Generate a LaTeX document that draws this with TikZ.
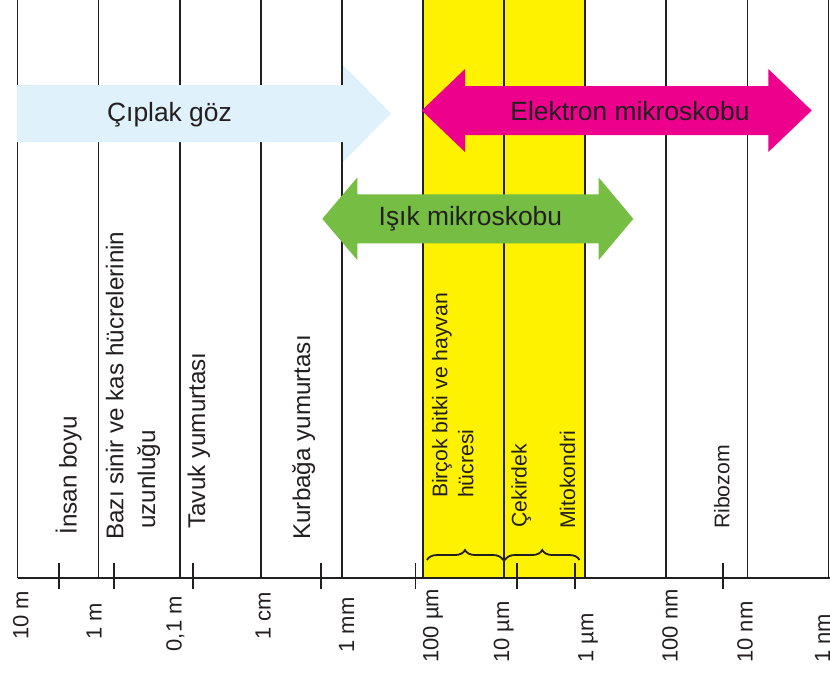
\documentclass[tikz,border=0pt]{standalone}
\usepackage{fontspec}
\setmainfont{Liberation Sans}
\usetikzlibrary{decorations.pathreplacing}
\definecolor{ink}{HTML}{231F20}
\definecolor{eyeblue}{HTML}{DFF1FA}
\definecolor{lmgreen}{HTML}{76BD43}
\definecolor{emmag}{HTML}{EC008C}
\definecolor{bandyellow}{HTML}{FFF200}
\begin{document}
\begin{tikzpicture}[x=0.5pt,y=-0.5pt,
  gridline/.style={draw=ink, line width=0.9pt},
  tickmark/.style={draw=ink, line width=0.9pt},
  bracemark/.style={draw=ink, line width=0.9pt, decorate, decoration={brace, amplitude=5pt}},
  lbl/.style={text=ink, font=\fontsize{12.1}{14}\selectfont, rotate=90, anchor=base west, inner sep=0pt},
  cellbl/.style={text=ink, font=\fontsize{10.6}{13}\selectfont, rotate=90, anchor=base west, inner sep=0pt},
  axlbl/.style={text=ink, font=\fontsize{11}{13}\selectfont, rotate=90, anchor=base west, inner sep=0pt},
  arrtext/.style={text=ink, font=\fontsize{13.2}{16}\selectfont, anchor=base west, inner sep=0pt}]
\useasboundingbox (0,0) rectangle (830,677);
\clip (0,0) rectangle (830,677);
\fill[white] (0,0) rectangle (830,677);
% yellow band
\fill[bandyellow] (423,0) rectangle (585,578);
% vertical grid lines
\foreach \x in {17.5,98.5,180,261,342,423,504,585,666,747.5,828.5}
  \draw[gridline] (\x,0) -- (\x,578);
% axis
\draw[gridline] (17.5,578) -- (832,578);
% tick marks
\foreach \x in {58.7,114.3,192.7,320.7,415.5,516.7,575,722.7}
  \draw[tickmark] (\x,563) -- (\x,589);
% braces
\draw[bracemark] (427,560) -- (503,560);
\draw[bracemark] (505,560) -- (579.5,560);
% object labels
\node[lbl] (insan) at (76.7,535) {İnsan boyu};
\node[lbl] (bazi1) at (123.3,540) {Bazı sinir ve kas hücrelerinin};
\node[lbl] (bazi2) at (155,529) {uzunluğu};
\node[lbl] (tavuk) at (205,529) {Tavuk yumurtası};
\node[lbl] (kurbaga) at (310,540) {Kurbağa yumurtası};
\node[cellbl] (bircok1) at (447.3,498.3) {Birçok bitki ve hayvan};
\node[cellbl] (bircok2) at (473.3,498.3) {hücresi};
\node[cellbl] (cekirdek) at (526.7,528) {Çekirdek};
\node[cellbl] (mito) at (575,529.3) {Mitokondri};
\node[cellbl] (ribo) at (729.3,529.3) {Ribozom};
% axis labels
\node[axlbl] (a1) at (28.3,640) {10 m};
\node[axlbl] (a2) at (101.7,640) {1 m};
\node[axlbl] (a3) at (181.7,651.7) {0,1 m};
\node[axlbl] (a4) at (270.7,640) {1 cm};
\node[axlbl] (a5) at (354,653) {1 mm};
\node[axlbl] (a6) at (438.3,663) {100 µm};
\node[axlbl] (a7) at (509,663) {10 µm};
\node[axlbl] (a8) at (593.3,663) {1 µm};
\node[axlbl] (a9) at (677.7,663) {100 nm};
\node[axlbl] (a10) at (752.7,663) {10 nm};
\node[axlbl] (a11) at (830,663) {1 nm};
% naked eye arrow
\fill[eyeblue] (17,85) -- (343,85) -- (343,65) -- (391,113.5) -- (343,162) -- (343,142) -- (17,142) -- cycle;
\node[arrtext] (ciplak) at (106.7,121) {Çıplak göz};
% electron microscope arrow
\fill[emmag] (421.7,110.5) -- (465,69) -- (465,86) -- (768.3,86) -- (768.3,69) -- (811.7,110.5)
  -- (768.3,152) -- (768.3,135) -- (465,135) -- (465,152) -- cycle;
\node[arrtext] (elektron) at (510,120.7) {Elektron mikroskobu};
% light microscope arrow
\fill[lmgreen] (322.3,218.8) -- (357.3,177.5) -- (357.3,194.3) -- (598.7,194.3) -- (598.7,177.5) -- (633.3,218.8)
  -- (598.7,260) -- (598.7,243.3) -- (357.3,243.3) -- (357.3,260) -- cycle;
\node[arrtext] (isik) at (378.3,225) {Işık mikroskobu};
\end{tikzpicture}
\end{document}
